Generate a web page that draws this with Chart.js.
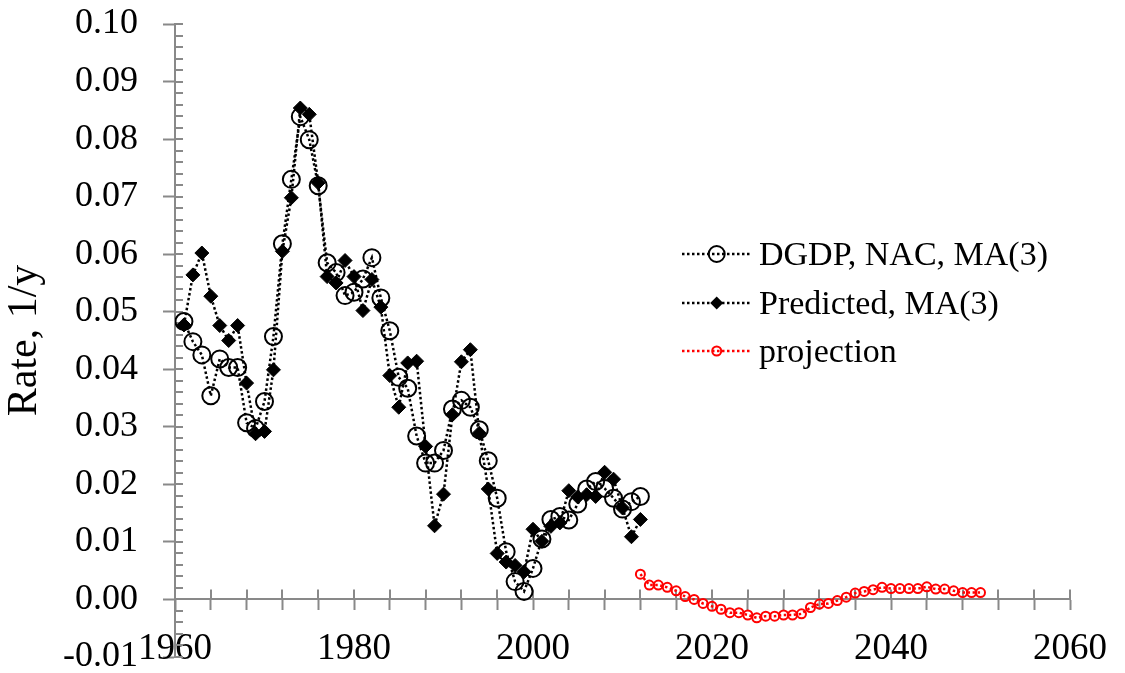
<!DOCTYPE html>
<html><head><meta charset="utf-8">
<script src="https://cdn.jsdelivr.net/npm/chart.js@4"></script>
<style>
html,body{margin:0;padding:0;background:#fff;}
#wrap{position:relative;width:1125px;height:673px;}
#legend{position:absolute;left:682px;top:229.6px;font-family:"Liberation Serif";font-size:34px;color:#000;}
.row{display:flex;align-items:center;height:48.7px;white-space:nowrap;}
.row svg{margin-right:9px;flex:none;}
</style></head><body>
<div id="wrap"><canvas id="c" width="1125" height="673"></canvas><div id="legend"></div></div>
<script>
const years = [1961,1962,1963,1964,1965,1966,1967,1968,1969,1970,1971,1972,1973,1974,1975,1976,1977,1978,1979,1980,1981,1982,1983,1984,1985,1986,1987,1988,1989,1990,1991,1992,1993,1994,1995,1996,1997,1998,1999,2000,2001,2002,2003,2004,2005,2006,2007,2008,2009,2010,2011,2012];
const dgdp = [0.0483,0.0448,0.0425,0.0354,0.0418,0.0403,0.0403,0.0307,0.0297,0.0344,0.0457,0.0618,0.0730,0.0839,0.0799,0.0719,0.0585,0.0568,0.0528,0.0534,0.0557,0.0594,0.0524,0.0467,0.0386,0.0367,0.0284,0.0237,0.0237,0.0259,0.0331,0.0346,0.0334,0.0295,0.0241,0.0176,0.0083,0.0031,0.0014,0.0054,0.0105,0.0139,0.0144,0.0138,0.0166,0.0192,0.0205,0.0193,0.0176,0.0157,0.0170,0.0179];
const predicted = [0.0477,0.0564,0.0602,0.0527,0.0476,0.0450,0.0476,0.0376,0.0288,0.0292,0.0399,0.0605,0.0698,0.0854,0.0843,0.0724,0.0561,0.0550,0.0589,0.0561,0.0502,0.0556,0.0508,0.0389,0.0334,0.0411,0.0414,0.0266,0.0128,0.0183,0.0321,0.0413,0.0434,0.0289,0.0192,0.0080,0.0065,0.0059,0.0048,0.0122,0.0101,0.0127,0.0133,0.0189,0.0178,0.0182,0.0179,0.0221,0.0209,0.0159,0.0109,0.0139];
const projYears = [2012,2013,2014,2015,2016,2017,2018,2019,2020,2021,2022,2023,2024,2025,2026,2027,2028,2029,2030,2031,2032,2033,2034,2035,2036,2037,2038,2039,2040,2041,2042,2043,2044,2045,2046,2047,2048,2049,2050];
const projection = [0.0044,0.0025,0.0025,0.0021,0.0015,0.0005,0.0000,-0.0007,-0.0012,-0.0017,-0.0023,-0.0023,-0.0027,-0.0032,-0.0029,-0.0029,-0.0027,-0.0027,-0.0025,-0.0014,-0.0008,-0.0007,-0.0002,0.0004,0.0011,0.0014,0.0017,0.0021,0.0019,0.0019,0.0019,0.0019,0.0022,0.0018,0.0018,0.0015,0.0012,0.0012,0.0012];
const seriesNames = ["DGDP, NAC, MA(3)", "Predicted, MA(3)", "projection"];
const xMin = 1960, xMax = 2060, xMinorStep = 4, xLabelStep = 20;
const yMin = -0.01, yMax = 0.10, yMinorStep = 0.002, yLabelStep = 0.01;
const yTitle = "Rate, 1/y";

const GRAY = '#898989';
const FONT = 'Liberation Serif';
const dots = [2.5, 2.5];

const pts = (xs, ys) => xs.map((x, i) => ({x: x, y: ys[i]}));
const isMajorY = v => Math.abs(v / yLabelStep - Math.round(v / yLabelStep)) < 1e-6;

const innerTicks = {
  id: 'innerTicks',
  beforeDatasetsDraw(chart) {
    const {ctx} = chart;
    const xs = chart.scales.x, ys = chart.scales.y;
    const y0 = ys.getPixelForValue(0);
    const x0 = ys.right;
    ctx.save();
    ctx.strokeStyle = GRAY;
    ctx.lineWidth = 2;
    ctx.beginPath();
    xs.ticks.forEach(t => {
      const px = Math.round(xs.getPixelForValue(t.value));
      ctx.moveTo(px, y0);
      ctx.lineTo(px, y0 - 10);
    });
    ys.ticks.forEach(t => {
      const py = Math.round(ys.getPixelForValue(t.value));
      ctx.moveTo(x0, py);
      ctx.lineTo(x0 + 8, py);
    });
    ctx.stroke();
    ctx.restore();
  }
};

new Chart(document.getElementById('c'), {
  type: 'line',
  data: {
    datasets: [
      {
        label: seriesNames[0],
        data: pts(years, dgdp),
        borderColor: '#000', borderWidth: 2.5, borderDash: dots,
        pointStyle: 'circle', pointRadius: 8.5, pointBorderWidth: 2,
        pointBorderColor: '#000', pointBackgroundColor: 'rgba(0,0,0,0)',
        tension: 0, order: 2
      },
      {
        label: seriesNames[1],
        data: pts(years, predicted),
        borderColor: '#000', borderWidth: 2.5, borderDash: dots,
        pointStyle: 'rectRot', pointRadius: 7, pointBorderWidth: 1,
        pointBorderColor: '#000', pointBackgroundColor: '#000',
        tension: 0, order: 1
      },
      {
        label: seriesNames[2],
        data: pts(projYears, projection),
        borderColor: '#ff0000', borderWidth: 2.5, borderDash: dots,
        pointStyle: 'circle', pointRadius: 4.5, pointBorderWidth: 2,
        pointBorderColor: '#ff0000', pointBackgroundColor: 'rgba(0,0,0,0)',
        tension: 0, order: 0
      }
    ]
  },
  options: {
    responsive: false,
    animation: false,
    layout: {padding: {left: 0, top: 24, right: 52, bottom: 16}},
    plugins: {legend: {display: false}, tooltip: {enabled: false}},
    scales: {
      x: {
        type: 'linear',
        position: {y: 0},
        min: xMin, max: xMax,
        ticks: {
          stepSize: xMinorStep, autoSkip: false, maxRotation: 0, minRotation: 0,
          color: '#000', padding: 18,
          font: {family: FONT, size: 37},
          callback: v => (Math.round(v) % xLabelStep === 0 ? String(Math.round(v)) : '')
        },
        grid: {drawOnChartArea: false, drawTicks: true, tickLength: 10, tickColor: GRAY, tickWidth: 2},
        border: {color: GRAY, width: 2}
      },
      y: {
        type: 'linear',
        min: yMin, max: yMax,
        afterFit: s => { s.width = 175; s.paddingTop = 0; s.paddingBottom = 0; },
        ticks: {
          stepSize: yMinorStep, autoSkip: false, color: '#000', padding: 25,
          font: {family: FONT, size: 36, lineHeight: 0.8},
          callback: v => (isMajorY(v) ? v.toFixed(2) : '')
        },
        grid: {
          drawOnChartArea: false, drawTicks: true, tickLength: 12, tickWidth: 2,
          tickColor: ctx => (ctx.tick && isMajorY(ctx.tick.value) ? GRAY : 'rgba(0,0,0,0)')
        },
        border: {color: GRAY, width: 2},
        title: {display: true, text: yTitle, color: '#000', padding: 0, font: {family: FONT, size: 42}}
      }
    }
  },
  plugins: [innerTicks]
});

// legend
const legendSpecs = [
  {color: '#000', marker: 'circle', r: 8},
  {color: '#000', marker: 'diamond', r: 6.5},
  {color: '#ff0000', marker: 'circle', r: 4.5}
];
const lg = document.getElementById('legend');
legendSpecs.forEach((s, i) => {
  const row = document.createElement('div');
  row.className = 'row';
  let m;
  if (s.marker === 'circle') {
    m = `<circle cx="34.7" cy="11" r="${s.r}" fill="none" stroke="${s.color}" stroke-width="2"/>`;
  } else {
    m = `<polygon points="34.7,${11 - s.r} ${34.7 + s.r},11 34.7,${11 + s.r} ${34.7 - s.r},11" fill="${s.color}"/>`;
  }
  row.innerHTML = `<svg width="68" height="22" viewBox="0 0 68 22"><line x1="0" y1="11" x2="68" y2="11" stroke="${s.color}" stroke-width="2.5" stroke-dasharray="2.5 2.5"/>${m}</svg><span>${seriesNames[i]}</span>`;
  lg.appendChild(row);
});
</script>
</body></html>
